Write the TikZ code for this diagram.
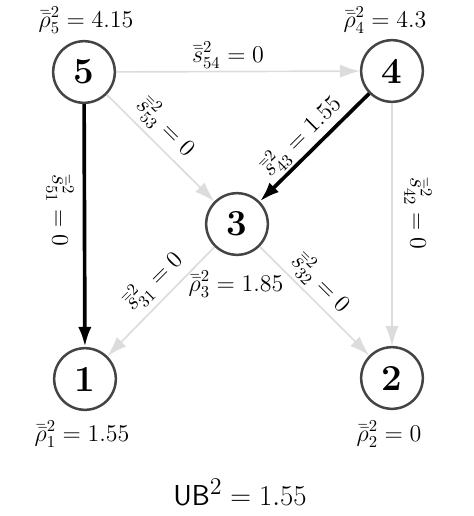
\documentclass[tikz,border=0pt]{standalone}
\usetikzlibrary{arrows.meta}
\definecolor{edgegray}{HTML}{DCDCDC}
\definecolor{ringgray}{HTML}{444444}
\newcommand{\dbar}[1]{\bar{\bar{#1}}}
\begin{document}
\begin{tikzpicture}[x=0.6pt,y=-0.6pt,
  vertex/.style={circle,draw=ringgray,line width=1.5pt,fill=white,minimum size=37pt,inner sep=0pt,font=\fontsize{22}{22}\selectfont\bfseries},
  zeroedge/.style={draw=edgegray,line width=1pt,-{Latex[length=12pt,width=8pt,fill=edgegray]}},
  hotedge/.style={draw=black,line width=2.2pt,-{Latex[length=12pt,width=8pt]}},
  elabel/.style={font=\fontsize{14.5}{15}\selectfont,inner sep=1pt},
  vlabel/.style={font=\fontsize{13.8}{15}\selectfont,inner sep=1pt}]
\useasboundingbox (0,0) rectangle (474,516);
\node[vertex] (n5) at (84,72) {5};
\node[vertex] (n4) at (392,71) {4};
\node[vertex] (n3) at (237,224) {3};
\node[vertex] (n1) at (85,379) {1};
\node[vertex] (n2) at (392,378) {2};

\draw[zeroedge] (n5) -- (n4);
\draw[zeroedge] (n5) -- (n3);
\draw[zeroedge] (n4) -- (n2);
\draw[zeroedge] (n3) -- (n1);
\draw[zeroedge] (n3) -- (n2);
\draw[hotedge] (n5) -- (n1);
\draw[hotedge] (n4) -- (n3);

\node[elabel] (l54) at (228,55) {$\dbar{s}^2_{54}=0$};
\node[elabel,rotate=-45] (l53) at (166,127) {$\dbar{s}^2_{53}=0$};
\node[elabel,rotate=45] (l43) at (301,136) {$\dbar{s}^2_{43}=1.55$};
\node[elabel,rotate=-90] (l51) at (60,210) {$\dbar{s}^2_{51}=0$};
\node[elabel,rotate=-90] (l42) at (418,213) {$\dbar{s}^2_{42}=0$};
\node[elabel,rotate=45] (l31) at (153,281) {$\dbar{s}^2_{31}=0$};
\node[elabel,rotate=-45] (l32) at (321,283) {$\dbar{s}^2_{32}=0$};

\node[vlabel] (r5) at (86,20) {$\dbar{\rho}^2_5=4.15$};
\node[vlabel] (r4) at (385,20) {$\dbar{\rho}^2_4=4.3$};
\node[vlabel] (r3) at (236,284) {$\dbar{\rho}^2_3=1.85$};
\node[vlabel] (r1) at (82,434) {$\dbar{\rho}^2_1=1.55$};
\node[vlabel] (r2) at (389,434) {$\dbar{\rho}^2_2=0$};

\node[font=\fontsize{19}{20}\selectfont] (ub) at (240,492) {$\mathsf{UB}^2=1.55$};
\end{tikzpicture}
\end{document}
